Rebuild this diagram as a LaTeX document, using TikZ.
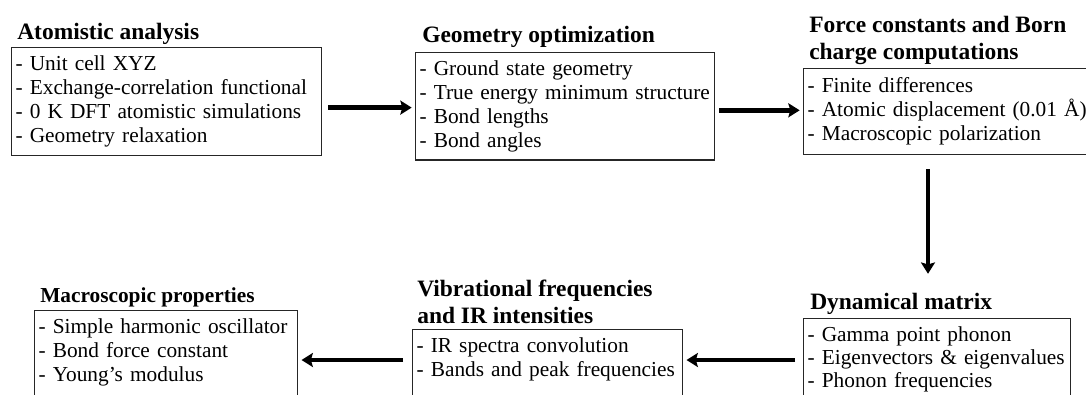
\documentclass[tikz,border=0pt]{standalone}
\usepackage{fontspec}
\setmainfont{Liberation Serif}
\usetikzlibrary{positioning,arrows.meta,calc}
\tikzset{
    block/.style = {
        draw=black!85,
        shape=rectangle,
        anchor=north west,
        align=left,
        inner xsep=3pt,
        inner ysep=6pt,
        line width=0.9pt,
        font=\fontsize{16}{18}\selectfont
    },
    heading/.style = {
        anchor=base west,
        align=left,
        inner sep=0pt,
        font=\fontsize{17.6}{20}\selectfont\bfseries
    },
    link/.style = {
        line width=3.6pt,
        shorten >=2.5pt
    },
    >={Stealth[length=8.5pt,width=10.5pt,inset=1.5pt]},
}

\begin{document}
\begin{tikzpicture}[x=0.75pt,y=-0.75pt]
    \clip (0,0) rectangle (1086,394);

    % top row
    \node[block, text width=226.5pt, minimum height=81pt] (atom) at (11,47)
        {- Unit cell XYZ\\- Exchange-correlation functional\\- 0 K DFT atomistic simulations\\- Geometry relaxation};
    \node[block, text width=218.25pt, minimum height=79.5pt] (geom) at (415,52)
        {- Ground state geometry\\- True energy minimum structure\\- Bond lengths\\- Bond angles};
    \node[block, text width=240pt, minimum height=64.5pt] (force) at (803,68)
        {- Finite differences\\- Atomic displacement (0.01 Å)\\- Macroscopic polarization};

    % bottom row (boxes run on past the lower edge)
    \node[block, text width=194.25pt, font=\fontsize{16}{17.4}\selectfont] (dyn) at (803,318)
        {- Gamma point phonon\\- Eigenvectors \& eigenvalues\\- Phonon frequencies\\\mbox{}};
    \node[block, text width=196.5pt] (vib) at (412,329)
        {- IR spectra convolution\\- Bands and peak frequencies\\\mbox{}};
    \node[block, text width=191.25pt] (macro) at (34,310)
        {- Simple harmonic oscillator\\- Bond force constant\\- Young’s modulus\\\mbox{}};

    % headings (two-line ones sit on their last line)
    \node[heading] (atomt) at ([shift={(6,-8)}]atom.north west) {Atomistic analysis};
    \node[heading] (geomt) at ([shift={(7,-10)}]geom.north west) {Geometry optimization};
    \node[heading] (forcet) at ([shift={(6,-9)}]force.north west) {Force constants and Born\\charge computations};
    \node[heading] (dynt) at ([shift={(7,-9)}]dyn.north west) {Dynamical matrix};
    \node[heading] (vibt) at ([shift={(5,-6)}]vib.north west) {Vibrational frequencies\\and IR intensities};
    \node[heading, font=\fontsize{16}{18}\selectfont\bfseries] (macrot) at ([shift={(6,-8)}]macro.north west) {Macroscopic properties};

    % arrows
    \coordinate (a1) at ([shift={(6,6)}]atom.east);
    \coordinate (a2) at ([shift={(4,4)}]geom.east);
    \coordinate (a3) at ([shift={(125,14)}]force.south west);
    \coordinate (a4) at ([shift={(-8,42)}]dyn.north west);
    \coordinate (a5) at ([shift={(-9,31)}]vib.north west);
    \path[draw, ->, link] (a1) -- (a1 -| geom.west);
    \path[draw, ->, link] (a2) -- (a2 -| force.west);
    \path[draw, ->, link, shorten >=14pt] (a3) -- (a3 |- dynt.north);
    \path[draw, ->, link] (a4) -- (a4 -| vib.east);
    \path[draw, ->, link] (a5) -- (a5 -| macro.east);
\end{tikzpicture}
\end{document}
